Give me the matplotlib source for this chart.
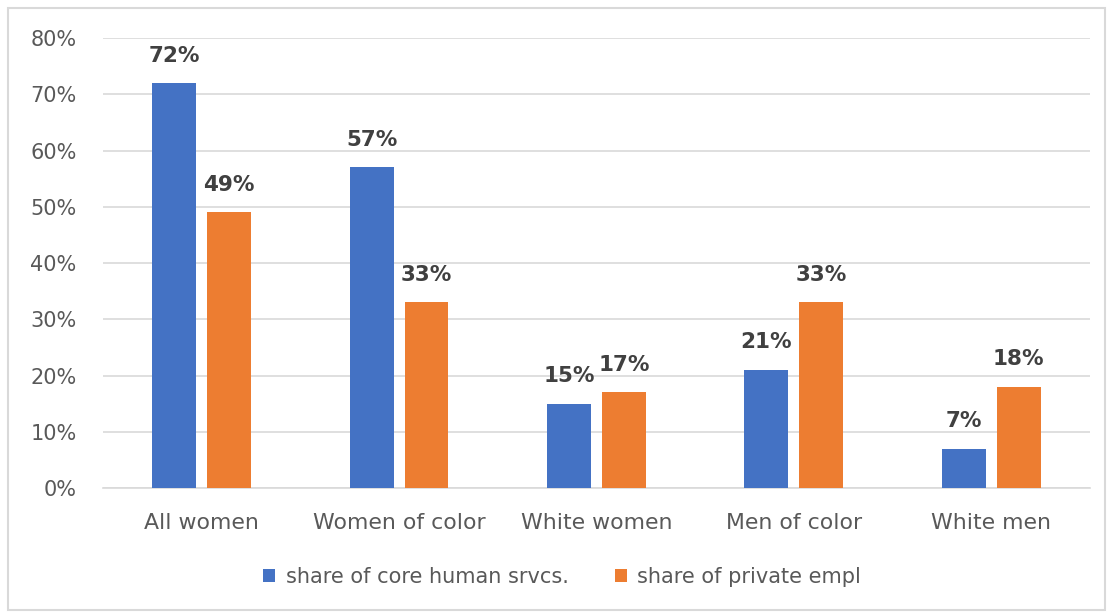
import numpy as np
import matplotlib.pyplot as plt
from matplotlib.patches import Rectangle

plt.rcParams['font.family'] = ['DejaVu Sans']

groups = ['All women', 'Women of color', 'White women', 'Men of color', 'White men']
core_human_srvcs = [72, 57, 15, 21, 7]
private_empl = [49, 33, 17, 33, 18]
series_names = ['share of core human srvcs.', 'share of private empl']
colors = ['#4472C4', '#ED7D31']

fig = plt.figure(figsize=(11.11, 6.13), dpi=100)
ax = fig.add_axes([0.0927, 0.2039, 0.8883, 0.7341])

# light frame round the whole chart
fig.patches.append(Rectangle((0.0075, 0.005), 0.9875, 0.982, transform=fig.transFigure,
                             fill=False, edgecolor='#D9D9D9', linewidth=1.5))

x = np.arange(len(groups))
w = 0.222
off = 0.139
bars1 = ax.bar(x - off, core_human_srvcs, w, color=colors[0], label=series_names[0], zorder=3)
bars2 = ax.bar(x + off, private_empl, w, color=colors[1], label=series_names[1], zorder=3)

for bars in (bars1, bars2):
    for b in bars:
        h = b.get_height()
        ax.text(b.get_x() + b.get_width() / 2, h + 3.1, f'{h:.0f}%', ha='center', va='bottom',
                fontsize=15.5, fontweight='bold', color='#404040')

ax.set_xlim(-0.5, len(groups) - 0.5)
ax.set_ylim(0, 80)
ax.set_yticks(range(0, 81, 10))
ax.set_yticklabels([f'{v}%' for v in range(0, 81, 10)])
ax.set_xticks(x)
ax.set_xticklabels(groups, fontsize=15.8)
ax.grid(axis='y', color='#D9D9D9', linewidth=1.2, zorder=0)
for s in ['top', 'right', 'left']:
    ax.spines[s].set_visible(False)
ax.spines['bottom'].set_color('#D9D9D9')
ax.spines['bottom'].set_linewidth(1.2)
ax.tick_params(axis='y', length=0, labelsize=15, labelcolor='#595959', pad=19)
ax.tick_params(axis='x', length=0, labelcolor='#595959', pad=18)

ax.legend(loc='center', bbox_to_anchor=(0.506, 0.0587), bbox_transform=fig.transFigure,
          ncol=2, frameon=False, fontsize=15, labelcolor='#595959',
          handlelength=0.6, handleheight=0.6, handletextpad=0.5, columnspacing=2.2)

fig.savefig('out.png', dpi=100)
